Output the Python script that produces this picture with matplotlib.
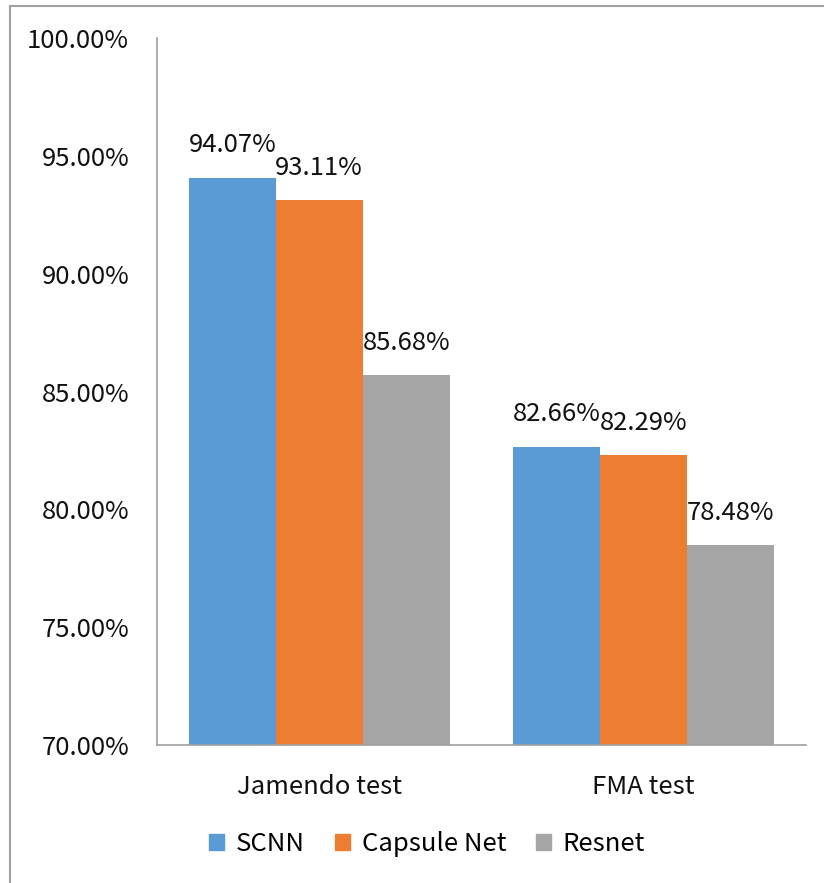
import matplotlib
matplotlib.use('Agg')
import matplotlib.pyplot as plt
from matplotlib.patches import Rectangle, Patch
import numpy as np

plt.rcParams['font.family'] = ['Noto Sans CJK KR', 'DejaVu Sans']

categories = ["Jamendo test", "FMA test"]
models = ["SCNN", "Capsule Net", "Resnet"]
scnn = [94.07, 82.66]
capsule = [93.11, 82.29]
resnet = [85.68, 78.48]
yticks = [70, 75, 80, 85, 90, 95, 100]

colors = ['#5B9BD5', '#ED7D31', '#A5A5A5']
fs = 18.5

fig = plt.figure(figsize=(8.24, 8.83), dpi=100)
ax = fig.add_axes([157/824, 1 - 745/883, (806-157)/824, (745-38)/883])

# figure border (cropped on right and bottom)
fig.patches.append(Rectangle((9.5/824, -0.1), 1.2, 1 - 6.5/883 + 0.1,
                             transform=fig.transFigure, fill=False,
                             edgecolor='#A0A0A0', linewidth=1.5))

x = np.arange(len(categories))
w = 0.268
for i, (vals, name) in enumerate(zip([scnn, capsule, resnet], models)):
    pos = x + (i - 1) * w
    ax.bar(pos, [v - 70 for v in vals], w, bottom=70, color=colors[i], label=name)
    for p, v in zip(pos, vals):
        ax.annotate("%.2f%%" % v, (p, v), xytext=(0, 23.5), textcoords='offset points',
                    ha='center', va='center', fontsize=fs, color='#111111')

ax.set_xlim(-0.5, 1.5)
ax.set_ylim(70, 100)
ax.set_yticks(yticks)
ax.set_yticklabels(["%.2f%%" % t for t in yticks])
ax.set_xticks(x)
ax.set_xticklabels(categories)
ax.tick_params(length=0, labelsize=fs, colors='#111111')
ax.tick_params(axis='y', pad=20)
ax.tick_params(axis='x', pad=21)
for s in ['top', 'right']:
    ax.spines[s].set_visible(False)
for s in ['left', 'bottom']:
    ax.spines[s].set_color('#A0A0A0')
    ax.spines[s].set_linewidth(1.2)

handles = [Patch(color=c) for c in colors]
fig.legend(handles, models, loc='center', bbox_to_anchor=(427/824, 1 - 844/883),
           ncol=3, frameon=False, fontsize=fs, handlelength=0.6, handleheight=0.6,
           handletextpad=0.45, columnspacing=1.15)

fig.savefig('out.png', dpi=100)
